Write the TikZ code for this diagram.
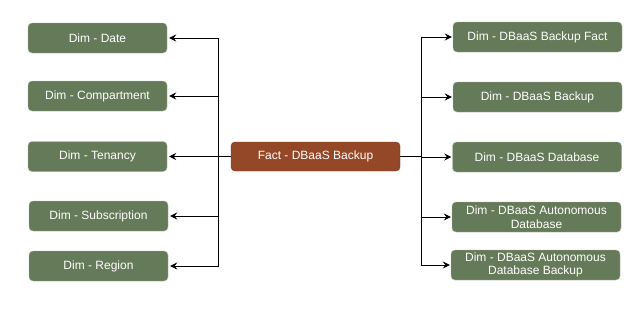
\documentclass[tikz,border=0pt]{standalone}
\usepackage{fontspec}
\setmainfont{Liberation Sans}
\usetikzlibrary{arrows.meta}
\definecolor{dimG}{RGB}{101,122,89}
\definecolor{dimE}{RGB}{170,184,162}
\definecolor{factB}{RGB}{148,72,40}

\begin{document}
\begin{tikzpicture}[x=1pt,y=-1pt,>={Stealth[length=7pt,width=7pt,inset=2.5pt]},
  dimbox/.style={draw=dimE,fill=dimG,text=white,rounded corners=4pt,minimum width=139pt,minimum height=30pt,align=center,inner sep=1pt,font=\fontsize{12}{13.5}\selectfont},
  factbox/.style={dimbox,draw=factB!80!black,fill=factB,minimum width=169pt,minimum height=29pt},
  link/.style={->,thick,line width=0.9pt}]
\useasboundingbox (0,0) rectangle (633,314);
% dimensions on the left
\node[dimbox] (date) at (97.5,38) {Dim - Date};
\node[dimbox] (comp) at (97.5,96) {Dim - Compartment};
\node[dimbox] (ten) at (97.5,156.5) {Dim - Tenancy};
\node[dimbox] (sub) at (98.5,216) {Dim - Subscription};
\node[dimbox] (reg) at (98.5,266) {Dim - Region};
% the fact
\node[factbox] (fact) at (315.5,156.5) {Fact - DBaaS Backup};
% dimensions on the right
\node[dimbox,minimum width=169pt] (bfact) at (537.5,37) {Dim - DBaaS Backup Fact};
\node[dimbox,minimum width=169pt] (bkp) at (537.5,97) {Dim - DBaaS Backup};
\node[dimbox,minimum width=169pt] (db) at (537,157) {Dim - DBaaS Database};
\node[dimbox,minimum width=169pt] (adb) at (536.5,217) {Dim - DBaaS Autonomous\\Database};
\node[dimbox,minimum width=169pt] (adbb) at (535.5,265) {Dim - DBaaS Autonomous\\Database Backup};
\coordinate (lt) at (218,156.5);
\coordinate (rt) at (421,156.5);
\foreach \t in {date,comp,ten,sub,reg}
  \draw[link,shorten >=2pt] (fact.west) -- (lt) |- (\t.east);
\foreach \t in {bfact,bkp,db,adb,adbb}
  \draw[link,shorten >=1pt] (fact.east) -- (rt) |- (\t.west);
\end{tikzpicture}
\end{document}
